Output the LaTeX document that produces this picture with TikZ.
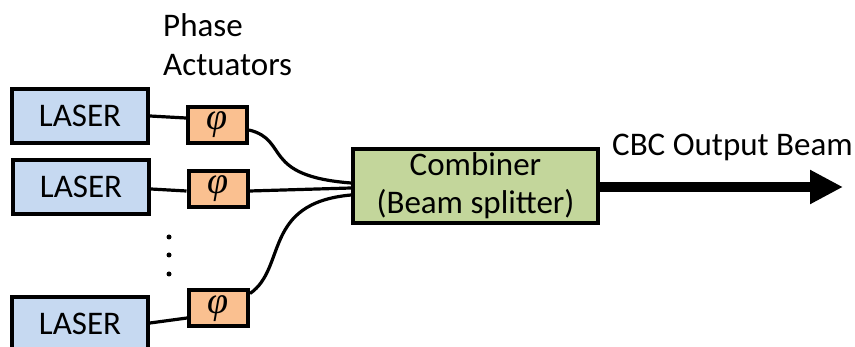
\documentclass[tikz,border=0pt]{standalone}
\usepackage{fontspec}
\setmainfont{Carlito}
\newfontfamily\phifont{Liberation Serif}
\usetikzlibrary{arrows.meta}
\definecolor{laserblue}{HTML}{C6D9F1}
\definecolor{phiorange}{HTML}{FAC090}
\definecolor{combgreen}{HTML}{C3D69B}
\begin{document}
\begin{tikzpicture}[x=1pt,y=-1pt,
  every node/.style={font=\fontsize{33}{38}\selectfont, inner sep=0pt},
  laserbox/.style={draw, line width=4pt, fill=laserblue, minimum width=136pt, minimum height=54pt},
  phibox/.style={draw, line width=4pt, fill=phiorange, minimum width=59pt, minimum height=36pt, font=\fontsize{38}{40}\phifont\itshape},
  combbox/.style={draw, line width=4pt, fill=combgreen, minimum width=245pt, minimum height=74pt, align=center},
  fiber/.style={line width=3.2pt},
  beam/.style={line width=10pt, -{Triangle[length=33pt,width=32pt]}}]
\useasboundingbox (0,0) rectangle (855,347);
\clip (0,0) rectangle (855,347);
\node[laserbox] (l1) at (80,116) {LASER};
\node[laserbox] (l2) at (81,187) {LASER};
\node[laserbox] (l3) at (80,324) {LASER};
\node[phibox] (p1) at (217.5,125) {φ};
\node[phibox] (p2) at (218,189) {φ};
\node[phibox] (p3) at (218.5,308.5) {φ};
\node[combbox] (c) at (475.5,186) {Combiner\\(Beam splitter)};
\coordinate (tip) at (843,187);
\node[anchor=base west] (t1) at (163,37) {Phase};
\node[anchor=base west] (t2) at (163,76) {Actuators};
\node[anchor=base west] (t3) at (612,156) {CBC Output Beam};
\node[circle, fill, minimum size=5pt] (d1) at (169,237) {};
\node[circle, fill, minimum size=5pt] (d2) at (169,255) {};
\node[circle, fill, minimum size=5pt] (d3) at (169,274) {};
\draw[fiber] (l1.east) -- ([yshift=7pt]p1.west);
\draw[fiber] ([yshift=-2pt]l2.east) -- ([yshift=-2pt]p2.west);
\draw[fiber] ([yshift=-2pt]p2.east) -- ([yshift=-2pt]c.west);
\draw[fiber] ([yshift=1pt]l3.east) -- ([yshift=-9.5pt]p3.west);
\draw[fiber] ([yshift=-5pt]p1.east) .. controls (290,140) and (260,176) .. ([yshift=3pt]c.west);
\draw[fiber] ([yshift=15pt]p3.east) .. controls (287,268) and (262,203) .. ([yshift=-9pt]c.west);
\draw[beam] ([yshift=-1pt]c.east) -- (tip);
\end{tikzpicture}
\end{document}
